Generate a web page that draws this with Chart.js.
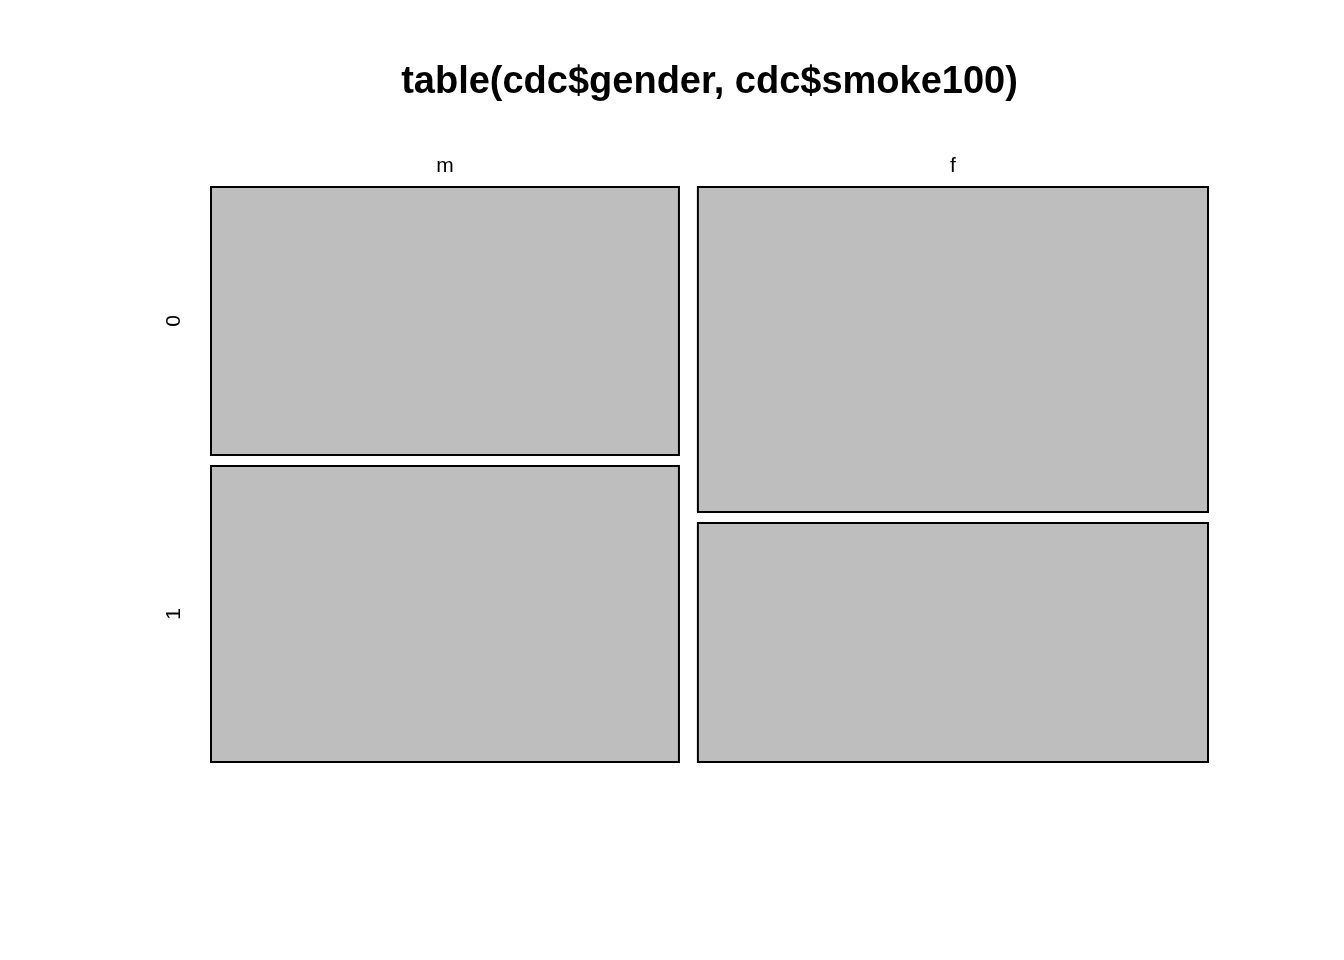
<!DOCTYPE html>
<html>
<head>
<meta charset="utf-8">
<script src="https://cdn.jsdelivr.net/npm/chart.js@4.4.0/dist/chart.umd.min.js"></script>
<style>
  html, body { margin: 0; padding: 0; background: #fff; }
  #wrap { width: 1344px; height: 960px; }
</style>
</head>
<body>
<div id="wrap"><canvas id="mosaic" width="1344" height="960"></canvas></div>
<script>
// table(cdc$gender, cdc$smoke100)
const genders = ['m', 'f'];
const smokeLevels = ['0', '1'];
const countsM = [4547, 5022];
const countsF = [6012, 4419];

const GAP = 0.019; // spacing between tiles, as a fraction of the plot

function buildTiles() {
    const columns = [countsM, countsF];
    const colTotals = columns.map(c => c.reduce((a, b) => a + b, 0));
    const grand = colTotals.reduce((a, b) => a + b, 0);
    const freeX = 1 - GAP * (columns.length - 1);

    const tiles = [];
    let x0 = 0;
    columns.forEach((col, ci) => {
        const w = freeX * colTotals[ci] / grand;
        const freeY = 1 - GAP * (col.length - 1);
        let y0 = 0;
        col.forEach((n, ri) => {
            const h = freeY * n / colTotals[ci];
            tiles.push({ col: ci, row: ri, x0: x0, x1: x0 + w, y0: y0, y1: y0 + h });
            y0 += h + GAP;
        });
        x0 += w + GAP;
    });
    return tiles;
}

const tiles = buildTiles();

// each tile is a closed outline; stepped keeps the full path (no fast-path merging)
const datasets = tiles.map(t => ({
    label: genders[t.col] + ' / ' + smokeLevels[t.row],
    data: [
        { x: t.x0, y: t.y0 },
        { x: t.x1, y: t.y0 },
        { x: t.x1, y: t.y1 },
        { x: t.x0, y: t.y1 },
        { x: t.x0, y: t.y0 }
    ],
    borderColor: '#000000',
    borderWidth: 2,
    backgroundColor: '#bebebe',
    fill: 'shape',
    stepped: 'before',
    pointRadius: 0,
    pointHoverRadius: 0,
    borderJoinStyle: 'miter',
    borderCapStyle: 'square',
    clip: false
}));

// Labels drawn from the scales: title, column names on top, row names on the left
const mosaicLabels = {
    id: 'mosaicLabels',
    afterDraw(chart) {
        const { ctx, chartArea, scales } = chart;
        const xs = scales.x, ys = scales.y;
        ctx.save();
        ctx.fillStyle = '#000';
        ctx.textAlign = 'center';
        ctx.textBaseline = 'middle';

        ctx.font = 'bold 38px "Liberation Sans", Arial, sans-serif';
        ctx.fillText('table(cdc$gender, cdc$smoke100)', (chartArea.left + chartArea.right) / 2, 83);

        ctx.font = '21px "Liberation Sans", Arial, sans-serif';
        genders.forEach((g, ci) => {
            const t = tiles.find(tt => tt.col === ci);
            const cx = xs.getPixelForValue((t.x0 + t.x1) / 2);
            ctx.fillText(g, cx, chartArea.top - 21);
        });

        smokeLevels.forEach((s, ri) => {
            const t = tiles.find(tt => tt.col === 0 && tt.row === ri);
            const cy = ys.getPixelForValue((t.y0 + t.y1) / 2);
            ctx.save();
            ctx.translate(chartArea.left - 37, cy);
            ctx.rotate(-Math.PI / 2);
            ctx.fillText(s, 0, 0);
            ctx.restore();
        });
        ctx.restore();
    }
};

new Chart(document.getElementById('mosaic'), {
    type: 'line',
    data: { datasets: datasets },
    options: {
        responsive: false,
        devicePixelRatio: 1,
        animation: false,
        layout: {
            padding: { left: 211, right: 136, top: 187, bottom: 198 }
        },
        plugins: {
            legend: { display: false },
            tooltip: { enabled: false },
            title: { display: false },
            filler: { drawTime: 'beforeDatasetsDraw' }
        },
        scales: {
            x: { type: 'linear', min: 0, max: 1, display: false },
            y: { type: 'linear', min: 0, max: 1, reverse: true, display: false }
        }
    },
    plugins: [mosaicLabels]
});
</script>
</body>
</html>
